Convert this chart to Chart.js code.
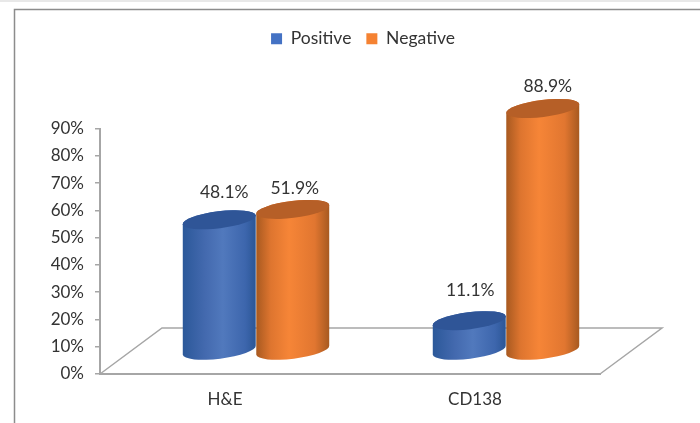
<!DOCTYPE html>
<html>
<head>
<meta charset="utf-8">
<title>Positive and negative staining</title>
<script src="https://cdn.jsdelivr.net/npm/chart.js@4/dist/chart.umd.min.js"></script>
<style>
    html, body { margin: 0; padding: 0; background: #ffffff; }
    #wrap { position: relative; width: 700px; height: 423px; }
</style>
</head>
<body>
<div id="wrap"><canvas id="chart" width="700" height="423"></canvas></div>
<script>
const categories = ['H&E', 'CD138'];
const positive = [48.1, 11.1];
const negative = [51.9, 88.9];
const yTicks = [0, 10, 20, 30, 40, 50, 60, 70, 80, 90];

// Fake 3D: marks sit on a floor that goes back from the front axis line
const DEPTH_X = 62;
const DEPTH_Y = 46;
const BAR_WIDTH = 73.5;
const TILT = -7 * Math.PI / 180;
const CAP_RY = 8.5;
const TEXT = '#333333';
const LINE = '#a6a6a6';
const FONT = 'Lato';

const blueStops = [[0, '#2b5899'], [0.3, '#4369ae'], [0.55, '#5179bd'], [0.85, '#3d66ad'], [1, '#2b5696']];
const orangeStops = [[0, '#a75920'], [0.2, '#de752f'], [0.45, '#f68537'], [0.8, '#e17630'], [1, '#a65920']];
const capColors = ['#2f5597', '#b65f27'];
// label nudges from the bar top, one per dataset and category
const labelNudge = [[[5, -27], [1, -30]], [[2, -21], [5, -22]]];

const framePlugin = {
    id: 'frame',
    beforeDraw(chart) {
        const c = chart.ctx;
        const a = chart.chartArea;
        c.save();
        c.fillStyle = '#e8e8e8';
        c.fillRect(0, 0, 700, 2);
        c.strokeStyle = '#8c8c8c';
        c.lineWidth = 1.5;
        c.beginPath();
        c.moveTo(14.5, 423);
        c.lineTo(14.5, 9.5);
        c.lineTo(700, 9.5);
        c.stroke();

        // floor outline
        c.strokeStyle = LINE;
        c.lineWidth = 1.5;
        c.beginPath();
        c.moveTo(a.left, a.bottom);
        c.lineTo(a.left + DEPTH_X, a.bottom - DEPTH_Y);
        c.lineTo(a.right + DEPTH_X, a.bottom - DEPTH_Y);
        c.lineTo(a.right, a.bottom);
        c.stroke();
        c.restore();
    }
};

function drawCylinder(c, x, top, base, stops, capColor) {
    const rx = BAR_WIDTH / 2;
    const grad = c.createLinearGradient(x - rx, 0, x + rx, 0);
    stops.forEach(s => grad.addColorStop(s[0], s[1]));

    c.beginPath();
    c.ellipse(x, base, rx, CAP_RY, TILT, 0, Math.PI);
    c.ellipse(x, top, rx, CAP_RY, TILT, Math.PI, Math.PI * 2);
    c.closePath();
    c.fillStyle = grad;
    c.fill();

    c.beginPath();
    c.ellipse(x, top, rx, CAP_RY, TILT, 0, Math.PI * 2);
    c.fillStyle = capColor;
    c.fill();
}

// Replace the flat bars with cylinders, placed from the bar elements.
// Positive goes first so Negative overlaps it, as in the original.
const cylinderPlugin = {
    id: 'cylinders',
    beforeDatasetsDraw(chart) {
        const c = chart.ctx;
        c.save();
        c.translate(DEPTH_X / 2, -DEPTH_Y / 2);
        chart.data.datasets.forEach((ds, i) => {
            const stops = i === 0 ? blueStops : orangeStops;
            chart.getDatasetMeta(i).data.forEach(bar => {
                drawCylinder(c, bar.x, bar.y, bar.base, stops, capColors[i]);
            });
        });
        c.restore();
        return false;
    },
    afterDraw(chart) {
        const c = chart.ctx;
        c.save();
        c.font = '17.5px ' + FONT;
        c.fillStyle = TEXT;
        c.textAlign = 'center';
        c.textBaseline = 'middle';
        chart.data.datasets.forEach((ds, i) => {
            chart.getDatasetMeta(i).data.forEach((bar, j) => {
                const n = labelNudge[i][j];
                c.fillText(ds.data[j].toFixed(1) + '%', bar.x + DEPTH_X / 2 + n[0], bar.y - DEPTH_Y / 2 + n[1]);
            });
        });
        c.restore();
    }
};

new Chart(document.getElementById('chart'), {
    type: 'bar',
    data: {
        labels: categories,
        datasets: [
            { label: 'Positive', data: positive, backgroundColor: '#4472c4' },
            { label: 'Negative', data: negative, backgroundColor: '#f58232' }
        ]
    },
    options: {
        responsive: false,
        animation: false,
        layout: { padding: { left: 26, top: 15 } },
        barThickness: BAR_WIDTH,
        plugins: {
            legend: {
                position: 'top',
                align: 'center',
                labels: {
                    boxWidth: 11,
                    boxHeight: 11,
                    padding: 15,
                    color: TEXT,
                    font: { family: FONT, size: 17.5 }
                }
            },
            tooltip: { enabled: false }
        },
        scales: {
            x: {
                grid: { display: false },
                border: { color: LINE, width: 2 },
                ticks: { color: TEXT, font: { family: FONT, size: 17 }, padding: 7, maxRotation: 0 },
                afterFit(scale) { scale.height = 49; }
            },
            y: {
                min: 0,
                max: 90,
                afterBuildTicks(scale) { scale.ticks = yTicks.map(v => ({ value: v })); },
                grid: { drawOnChartArea: false, drawTicks: true, tickLength: 5, color: LINE, lineWidth: 1.5 },
                border: { color: LINE, width: 2 },
                ticks: {
                    color: TEXT,
                    padding: 11,
                    font: { family: FONT, size: 17 },
                    callback: v => v + '%'
                },
                afterFit(scale) { scale.width = 74; }
            },
            // empty axes that hold the plot clear of the legend and the floor overhang
            spareRight: {
                position: 'right',
                grid: { display: false },
                border: { display: false },
                ticks: { display: false },
                afterFit(scale) { scale.width = 100; }
            },
            spareTop: {
                axis: 'x',
                position: 'top',
                grid: { display: false },
                border: { display: false },
                ticks: { display: false },
                afterFit(scale) { scale.height = 71; }
            }
        }
    },
    plugins: [framePlugin, cylinderPlugin]
});
</script>
</body>
</html>
